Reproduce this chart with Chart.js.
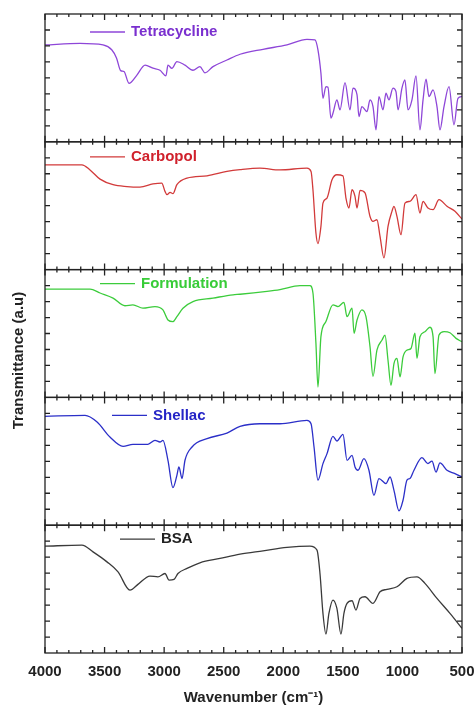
<!DOCTYPE html>
<html>
<head>
<meta charset="utf-8">
<title>FTIR spectra</title>
<script src="https://cdn.jsdelivr.net/npm/chart.js@4/dist/chart.umd.min.js"></script>
<style>
  html, body { margin: 0; padding: 0; background: #fff; }
  #wrap { width: 475px; height: 707px; }
</style>
</head>
<body>
<div id="wrap"><canvas id="ftir"></canvas></div>
<script>
// wavenumber (cm-1) and transmittance (a.u., 0-100 inside each panel)
const tetraWn = [4000, 3706, 3513, 3440, 3400, 3365, 3337, 3295, 3230, 3160, 3094, 3035, 2985, 2968, 2935, 2893, 2825, 2758, 2700, 2657, 2590, 2473, 2363, 2170, 1969, 1801, 1734, 1709, 1684, 1667, 1642, 1625, 1600, 1583, 1550, 1524, 1482, 1440, 1415, 1381, 1365, 1340, 1297, 1272, 1247, 1222, 1197, 1163, 1138, 1113, 1079, 1054, 1037, 1004, 979, 953, 920, 886, 853, 827, 802, 777, 743, 710, 685, 651, 609, 567, 534, 500];
const tetraT = [75.8, 77, 75.8, 72, 65.6, 55.7, 55, 45.8, 52, 60, 57.6, 56, 51.6, 60, 57.5, 62.8, 60, 56, 58.8, 54, 58.8, 64, 68.5, 72.4, 75.8, 80.2, 79.7, 71.9, 53.6, 34, 43.2, 42.7, 18.5, 22.4, 32.8, 25, 46.3, 25, 42, 36.7, 19.8, 27.6, 23.7, 32.8, 27.6, 9.4, 35.4, 25, 38, 32.8, 42, 39.3, 25, 42, 48.4, 25, 32.8, 51.6, 9.4, 32.8, 49, 35.4, 40.6, 27.6, 9.4, 27.6, 43.2, 13.3, 34, 35.4];

const carbWn = [4000, 3690, 3622, 3538, 3429, 3312, 3203, 3094, 3020, 2993, 2976, 2950, 2926, 2893, 2808, 2640, 2473, 2363, 2196, 2028, 1801, 1767, 1751, 1726, 1709, 1684, 1667, 1633, 1591, 1550, 1499, 1474, 1449, 1423, 1398, 1381, 1356, 1314, 1272, 1247, 1214, 1188, 1155, 1121, 1088, 1071, 1046, 1012, 979, 937, 886, 853, 827, 786, 743, 693, 626, 559, 500];
const carbT = [82, 82, 78, 70.8, 66.4, 65, 64.6, 67, 67.7, 61.2, 58.6, 60.4, 59.4, 66.4, 71.6, 73.4, 76.8, 78.2, 79.4, 78, 79.4, 76.8, 62.5, 28.6, 20.3, 33.8, 52, 56, 70.3, 74.2, 73.4, 56, 48.2, 62.5, 57.3, 48.2, 62, 60, 41.6, 37.8, 39, 26, 9.1, 33.8, 45.6, 49.5, 41.6, 27.3, 52, 53.4, 58.6, 44.3, 53.4, 48.2, 46.9, 54.7, 49.5, 45.6, 39.6];

const formWn = [4000, 3622, 3538, 3429, 3329, 3262, 3178, 3077, 3010, 2968, 2926, 2893, 2842, 2758, 2590, 2422, 2363, 2137, 2028, 1860, 1776, 1751, 1726, 1709, 1684, 1642, 1583, 1541, 1491, 1465, 1423, 1406, 1381, 1340, 1306, 1272, 1247, 1214, 1171, 1146, 1121, 1096, 1071, 1046, 1020, 995, 962, 928, 895, 878, 853, 811, 769, 743, 727, 693, 651, 601, 550, 500];
const formT = [84.8, 84.8, 81.7, 77.7, 71.7, 72.4, 69.8, 71.1, 68.5, 60.6, 59.3, 63.2, 69.8, 75, 77.7, 80.3, 80.7, 82.9, 84.3, 87.4, 87.4, 81.7, 42.3, 8.1, 47.5, 59.3, 72.4, 71.1, 74.3, 63.2, 69.8, 50.2, 60.6, 68.5, 63.2, 39.6, 16.5, 37, 44.9, 48.8, 29.1, 9.4, 26.5, 30.5, 16, 31.7, 37, 38.3, 50.2, 30.5, 47.5, 51.4, 54.9, 47.5, 18.7, 48.8, 51.4, 50.6, 46.2, 43.5];

const shelWn = [4000, 3664, 3563, 3455, 3345, 3262, 3136, 3077, 3035, 3010, 2968, 2926, 2893, 2876, 2850, 2825, 2766, 2640, 2473, 2363, 2196, 2028, 1801, 1767, 1742, 1709, 1667, 1633, 1583, 1550, 1499, 1465, 1423, 1398, 1373, 1323, 1281, 1239, 1197, 1138, 1104, 1071, 1029, 995, 962, 937, 903, 836, 786, 752, 718, 685, 626, 559, 500];
const shelT = [85.2, 85.9, 80.7, 69, 61.7, 63.3, 63.3, 66.4, 65.1, 66.4, 50.8, 29.4, 39, 45.6, 36.5, 50.8, 61.2, 67.7, 72.1, 77.3, 79.4, 79.4, 82, 79.4, 61.2, 35.2, 48.2, 56, 69.5, 65.9, 71.1, 50.8, 54.7, 45.6, 43, 52.1, 43, 23.4, 36.5, 32.6, 37.7, 27.3, 11.2, 19.5, 35.2, 36.5, 43, 52.9, 48.2, 50.2, 41.6, 48.7, 43, 40.4, 37.7];

const bsaWn = [4000, 3690, 3597, 3480, 3387, 3287, 3220, 3119, 3052, 2993, 2959, 2917, 2884, 2808, 2700, 2531, 2363, 2170, 1969, 1776, 1717, 1692, 1667, 1642, 1617, 1583, 1550, 1516, 1491, 1465, 1423, 1390, 1356, 1314, 1247, 1188, 1130, 1046, 962, 878, 811, 710, 601, 500];
const bsaT = [83.6, 84.4, 79.1, 71.3, 63.5, 49.2, 53.7, 60.2, 59.6, 62.2, 57, 57.6, 62.2, 66.2, 70.6, 74, 77.3, 79.9, 82.6, 83.6, 80.5, 62.2, 31, 14.8, 31, 41.4, 34.9, 14.8, 31, 38.8, 40.9, 33.6, 42.7, 44, 38.8, 47.9, 49.8, 51.8, 58.4, 59.6, 54.5, 42.7, 31, 19.3];

const xTicks = { min: 500, max: 4000, major: 500, minor: 100 };

const FONT = "'Liberation Sans', Arial, sans-serif";

function toPoints(wn, t) {
  return wn.map((w, i) => ({ x: w, y: t[i] }));
}

function spectrum(label, wn, t, axis, line, text, legendX, legendY) {
  return {
    label: label,
    data: toPoints(wn, t),
    yAxisID: axis,
    borderColor: line,
    borderWidth: 1.3,
    pointRadius: 0,
    fill: false,
    cubicInterpolationMode: 'monotone',
    labelColor: text,
    legendX: legendX,
    legendY: legendY
  };
}

const datasets = [
  spectrum('Tetracycline', tetraWn, tetraT, 'yTetra', '#8e46d8', '#7a2fcf', 45, 18),
  spectrum('Carbopol', carbWn, carbT, 'yCarb', '#d23a3a', '#d0212c', 45, 15),
  spectrum('Formulation', formWn, formT, 'yForm', '#3ccc3c', '#38cc38', 55, 14),
  spectrum('Shellac', shelWn, shelT, 'yShel', '#2b2fc8', '#2424c6', 67, 18),
  spectrum('BSA', bsaWn, bsaT, 'yBsa', '#3a3a3a', '#222222', 75, 14)
];

// one stacked y axis per panel; the first one listed sits at the bottom
function panelAxis() {
  return {
    type: 'linear',
    position: 'left',
    stack: 'ftir',
    stackWeight: 1,
    min: 0,
    max: 100,
    ticks: { display: false, stepSize: 12.5 },
    grid: { display: false },
    border: { display: false },
    afterFit(s) { s.width = 0; }
  };
}

// panel frames, inward ticks and the per-panel legend
const panelFrame = {
  id: 'panelFrame',
  afterDatasetsDraw(chart) {
    const { ctx, scales } = chart;
    const x = scales.x;
    ctx.save();
    ctx.strokeStyle = '#222';
    ctx.lineWidth = 1.3;
    chart.data.datasets.forEach(ds => {
      const y = scales[ds.yAxisID];
      ctx.strokeRect(x.left, y.top, x.right - x.left, y.bottom - y.top);
      ctx.beginPath();
      for (let wn = xTicks.min; wn <= xTicks.max; wn += xTicks.minor) {
        const px = x.getPixelForValue(wn);
        const len = wn % xTicks.major === 0 ? 6 : 3;
        ctx.moveTo(px, y.top);
        ctx.lineTo(px, y.top + len);
        ctx.moveTo(px, y.bottom);
        ctx.lineTo(px, y.bottom - len);
      }
      y.ticks.forEach(t => {
        if (t.value <= y.min || t.value >= y.max) return;
        const py = y.getPixelForValue(t.value);
        ctx.moveTo(x.left, py);
        ctx.lineTo(x.left + 5, py);
        ctx.moveTo(x.right, py);
        ctx.lineTo(x.right - 5, py);
      });
      ctx.stroke();

      const lx = x.left + ds.legendX;
      const ly = y.top + ds.legendY;
      ctx.beginPath();
      ctx.strokeStyle = ds.borderColor;
      ctx.lineWidth = 1.3;
      ctx.moveTo(lx, ly);
      ctx.lineTo(lx + 35, ly);
      ctx.stroke();
      ctx.fillStyle = ds.labelColor;
      ctx.font = 'bold 15px ' + FONT;
      ctx.textBaseline = 'middle';
      ctx.textAlign = 'left';
      ctx.fillText(ds.label, lx + 41, ly);
      ctx.strokeStyle = '#222';
      ctx.lineWidth = 1.3;
    });
    ctx.restore();
  }
};

const ctx = document.getElementById('ftir').getContext('2d');
new Chart(ctx, {
  type: 'line',
  data: { datasets: datasets },
  options: {
    responsive: true,
    maintainAspectRatio: false,
    animation: false,
    layout: { padding: { left: 10, right: 13, top: 14, bottom: 0 } },
    plugins: {
      legend: { display: false },
      tooltip: { enabled: false },
      title: {
        display: true,
        position: 'left',
        text: 'Transmittance (a.u)',
        color: '#222',
        font: { family: FONT, size: 15, weight: 'bold' },
        padding: { top: 0, bottom: 17 }
      }
    },
    scales: {
      x: {
        type: 'linear',
        reverse: true,
        min: xTicks.min,
        max: xTicks.max,
        grid: { display: false },
        border: { display: false },
        ticks: {
          stepSize: xTicks.major,
          color: '#222',
          padding: 2,
          font: { family: FONT, size: 15, weight: 'bold' },
          callback: v => String(v)
        },
        title: {
          display: true,
          text: 'Wavenumber (cm⁻¹)',
          color: '#222',
          font: { family: FONT, size: 15, weight: 'bold' },
          padding: { top: 4, bottom: 0 }
        },
        afterFit(s) {
          s.height = 54;
          s.paddingLeft = 0;
          s.paddingRight = 0;
        }
      },
      yBsa: panelAxis(),
      yShel: panelAxis(),
      yForm: panelAxis(),
      yCarb: panelAxis(),
      yTetra: panelAxis()
    }
  },
  plugins: [panelFrame]
});
</script>
</body>
</html>
